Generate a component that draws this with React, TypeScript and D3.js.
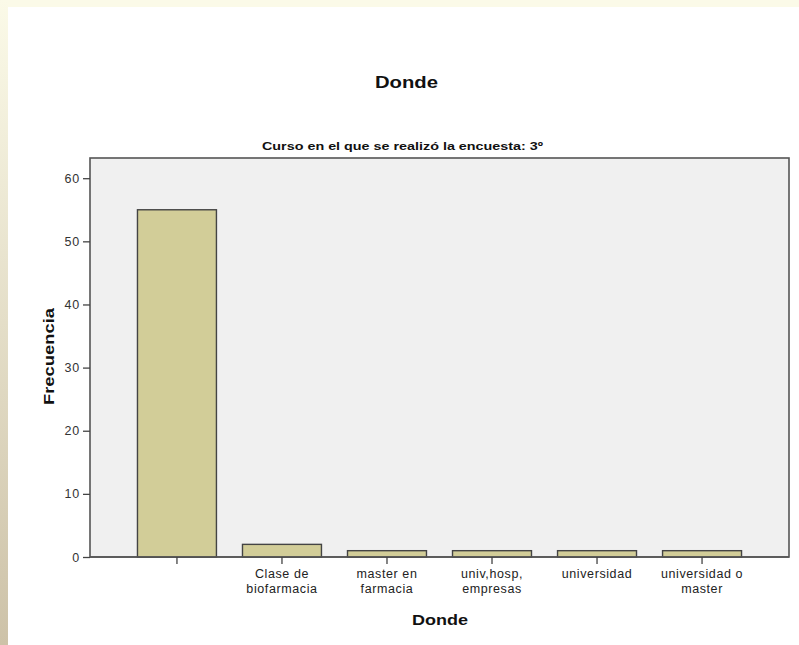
import { useEffect, useRef } from 'react'
import * as d3 from 'd3'

const categories = ['', 'Clase de\nbiofarmacia', 'master en\nfarmacia', 'univ,hosp,\nempresas', 'universidad', 'universidad o\nmaster']
const counts = [55, 2, 1, 1, 1, 1]
const yTicks = [0, 10, 20, 30, 40, 50, 60]

const W = 799
const H = 645
const FONT = '"Liberation Sans", Arial, sans-serif'

export default function App() {
  const svgRef = useRef<SVGSVGElement>(null)

  useEffect(() => {
    if (!svgRef.current) return
    const svg = d3.select(svgRef.current)
    svg.selectAll('*').remove()

    const plot = { left: 90, right: 789, top: 158, bottom: 557 }

    // page background: cream strip on top, gradient strip on the left
    const defs = svg.append('defs')
    const grad = defs.append('linearGradient').attr('id', 'sideGrad')
      .attr('x1', '0').attr('y1', '0').attr('x2', '0').attr('y2', '1')
    grad.append('stop').attr('offset', '0%').attr('stop-color', '#fbfae8')
    grad.append('stop').attr('offset', '100%').attr('stop-color', '#cdc2a8')

    svg.append('rect').attr('width', W).attr('height', H).attr('fill', '#fbfae8')
    svg.append('rect').attr('width', 8).attr('height', H).attr('fill', 'url(#sideGrad)')
    svg.append('rect').attr('x', 8).attr('y', 7).attr('width', W - 8).attr('height', H - 7).attr('fill', '#ffffff')

    const x = d3.scaleBand<string>()
      .domain(categories)
      .range([plot.left, plot.right])
      .paddingInner(0.248)
      .paddingOuter(0.452)

    const y = d3.scaleLinear()
      .domain([0, 63.2])
      .range([plot.bottom, plot.top])

    // plot area
    svg.append('rect')
      .attr('x', plot.left).attr('y', plot.top)
      .attr('width', plot.right - plot.left).attr('height', plot.bottom - plot.top)
      .attr('fill', '#f0f0f0').attr('stroke', '#555').attr('stroke-width', 1.6)

    // bars
    svg.selectAll('.bar').data(counts).enter().append('rect')
      .attr('class', 'bar')
      .attr('x', (_, i) => x(categories[i]) as number)
      .attr('y', d => y(d))
      .attr('width', x.bandwidth())
      .attr('height', d => y(0) - y(d))
      .attr('fill', '#d2cd98').attr('stroke', '#444').attr('stroke-width', 1.4)

    // redraw bottom line on top of bars
    svg.append('line').attr('x1', plot.left).attr('x2', plot.right)
      .attr('y1', plot.bottom).attr('y2', plot.bottom).attr('stroke', '#555').attr('stroke-width', 1.6)

    // y axis
    const yAxis = svg.append('g').attr('transform', `translate(${plot.left},0)`)
      .call(d3.axisLeft(y).tickValues(yTicks).tickSize(7).tickPadding(3))
    yAxis.select('.domain').remove()
    yAxis.selectAll('line').attr('stroke', '#444').attr('stroke-width', 1.3)
    yAxis.selectAll('text').style('font-family', FONT).style('font-size', '12.5px')
      .style('letter-spacing', '0.8px').attr('fill', '#333')

    // x axis
    const xAxis = svg.append('g').attr('transform', `translate(0,${plot.bottom})`)
      .call(d3.axisBottom(x).tickSize(7).tickFormat(() => ''))
    xAxis.select('.domain').remove()
    xAxis.selectAll('line').attr('stroke', '#444').attr('stroke-width', 1.3)

    categories.forEach(c => {
      const cx = (x(c) as number) + x.bandwidth() / 2
      c.split('\n').forEach((line, j) => {
        svg.append('text').attr('x', cx).attr('y', 578 + j * 15)
          .attr('text-anchor', 'middle').style('font-family', FONT).style('font-size', '12.5px')
          .style('letter-spacing', '0.6px').attr('fill', '#222').text(line)
      })
    })

    // titles
    svg.append('text').attr('x', 406.5).attr('y', 88).attr('text-anchor', 'middle')
      .attr('textLength', 63).attr('lengthAdjust', 'spacingAndGlyphs')
      .style('font-family', FONT).style('font-size', '17px').style('font-weight', 'bold')
      .attr('fill', '#111').text('Donde')

    svg.append('text').attr('x', 402.5).attr('y', 150).attr('text-anchor', 'middle')
      .attr('textLength', 281).attr('lengthAdjust', 'spacingAndGlyphs')
      .style('font-family', FONT).style('font-size', '11.5px').style('font-weight', 'bold')
      .attr('fill', '#111').text('Curso en el que se realizó la encuesta: 3º')

    svg.append('text').attr('x', 440).attr('y', 625).attr('text-anchor', 'middle')
      .attr('textLength', 56).attr('lengthAdjust', 'spacingAndGlyphs')
      .style('font-family', FONT).style('font-size', '15px').style('font-weight', 'bold')
      .attr('fill', '#111').text('Donde')

    svg.append('text').attr('transform', 'rotate(-90)').attr('x', -356.5).attr('y', 54)
      .attr('textLength', 97).attr('lengthAdjust', 'spacingAndGlyphs')
      .attr('text-anchor', 'middle').style('font-family', FONT).style('font-size', '15px')
      .style('font-weight', 'bold').attr('fill', '#111').text('Frecuencia')
  }, [])

  return (
    <svg ref={svgRef} width={W} height={H}
      style={{ position: 'absolute', left: 0, top: 0, display: 'block' }} />
  )
}
